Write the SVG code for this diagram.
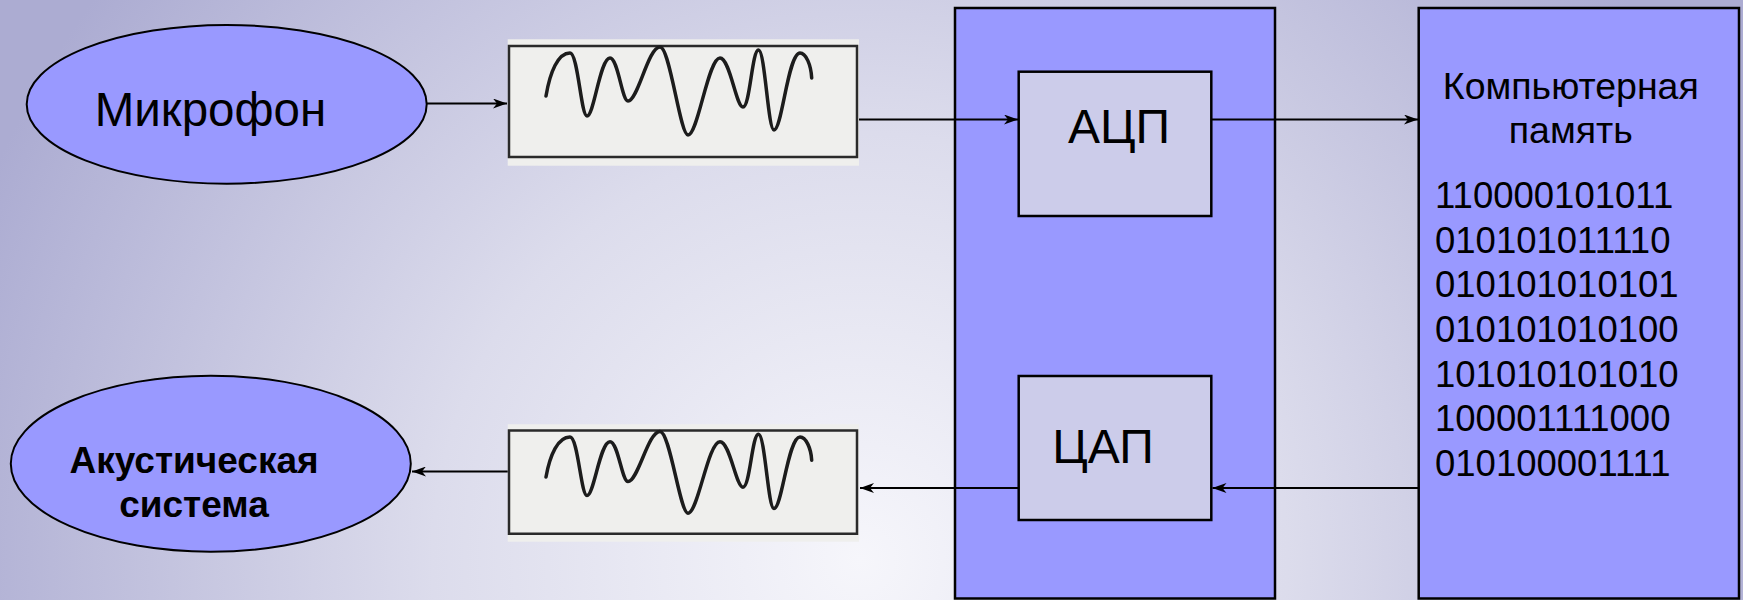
<svg xmlns="http://www.w3.org/2000/svg" width="1743" height="600" viewBox="0 0 1743 600">
<defs>
<radialGradient id="bg" gradientUnits="userSpaceOnUse" cx="860" cy="560" r="950">
<stop offset="0" stop-color="#f6f6fb"/>
<stop offset="0.45" stop-color="#dcdcec"/>
<stop offset="1" stop-color="#acacd2"/>
</radialGradient>
<marker id="arr" markerUnits="userSpaceOnUse" viewBox="0 0 14 10" markerWidth="14" markerHeight="10" refX="14" refY="5" orient="auto">
<path d="M0,0 L14,5 L0,10 L4,5 Z" fill="#000"/>
</marker>
<g id="wave">
<rect x="507.7" y="39.3" width="351.3" height="126.4" fill="#efefed"/>
<rect x="509" y="46" width="348" height="111" fill="none" stroke="#2a2a2a" stroke-width="2.5" vector-effect="non-scaling-stroke"/>
<path d="M546,96 C550,72 558,53 570,53 C578,53 581,116 587,116 C594,116 600,58 610,58 C618,58 622,101 628,101 C638,101 648,47 660,47 C670,47 680,135 688,135 C698,135 708,58 720,58 C730,58 736,107 743,107 C750,107 752,50 758.5,50 C765,50 768,130 774,130 C782,130 788,53 800,53 C806,53 811,65 811.7,78" fill="none" stroke="#1c1c1c" stroke-width="3.5" stroke-linecap="round" stroke-linejoin="round" vector-effect="non-scaling-stroke"/>
</g>
</defs>
<style>
.blue{fill:#9999ff;stroke:#000;stroke-width:2.5}
.inner{fill:#ccccea;stroke:#000;stroke-width:2.5}
.ell{fill:#9999ff;stroke:#000;stroke-width:2}
.t{font-family:"Liberation Sans",Arial,sans-serif;fill:#000}
.con{stroke:#000;stroke-width:2;fill:none}
.bits{font-size:36.5px}
</style>
<rect x="0" y="0" width="1743" height="600" fill="url(#bg)"/>

<g id="mic">
<ellipse class="ell" cx="226.7" cy="104.3" rx="200" ry="79.4"/>
<text class="t" x="210.5" y="125.5" font-size="47.5" text-anchor="middle">Микрофон</text>
</g>

<g id="speaker">
<ellipse class="ell" cx="210.8" cy="463.7" rx="200" ry="88"/>
<text class="t" x="194" y="472.7" font-size="37" font-weight="bold" text-anchor="middle">Акустическая</text>
<text class="t" x="194" y="516.7" font-size="37" font-weight="bold" text-anchor="middle">система</text>
</g>

<g id="signal-in">
<use href="#wave"/>
</g>

<g id="signal-out">
<use href="#wave" transform="translate(0,424.3) scale(1,0.929) translate(0,-39.3)"/>
</g>

<g id="converter">
<rect class="blue" x="955" y="8" width="320" height="590.5"/>
</g>

<g id="adc">
<rect class="inner" x="1018.7" y="71.7" width="192.6" height="144.3"/>
<text class="t" x="1119" y="142.7" font-size="48" text-anchor="middle">АЦП</text>
</g>

<g id="dac">
<rect class="inner" x="1018.7" y="376" width="192.6" height="144"/>
<text class="t" x="1103" y="462.7" font-size="48" text-anchor="middle">ЦАП</text>
</g>

<g id="memory">
<rect class="blue" x="1418.7" y="8" width="320.3" height="590.5"/>
<text class="t" x="1570.8" y="99.3" font-size="37.5" text-anchor="middle">Компьютерная</text>
<text class="t" x="1570.8" y="143.3" font-size="37.5" text-anchor="middle">память</text>
<text class="t bits" x="1435" y="208">110000101011</text>
<text class="t bits" x="1435" y="252.7">010101011110</text>
<text class="t bits" x="1435" y="297.3">010101010101</text>
<text class="t bits" x="1435" y="342">010101010100</text>
<text class="t bits" x="1435" y="386.7">101010101010</text>
<text class="t bits" x="1435" y="431.3">100001111000</text>
<text class="t bits" x="1435" y="476">010100001111</text>
</g>

<g id="connectors">
<path class="con" d="M427,103.5 H507" marker-end="url(#arr)"/>
<path class="con" d="M859,119.5 H1018" marker-end="url(#arr)"/>
<path class="con" d="M1211.3,119.5 H1418" marker-end="url(#arr)"/>
<path class="con" d="M1418.7,488 H1212.5" marker-end="url(#arr)"/>
<path class="con" d="M1018.7,488 H860" marker-end="url(#arr)"/>
<path class="con" d="M507.7,471.5 H412" marker-end="url(#arr)"/>
</g>
</svg>
